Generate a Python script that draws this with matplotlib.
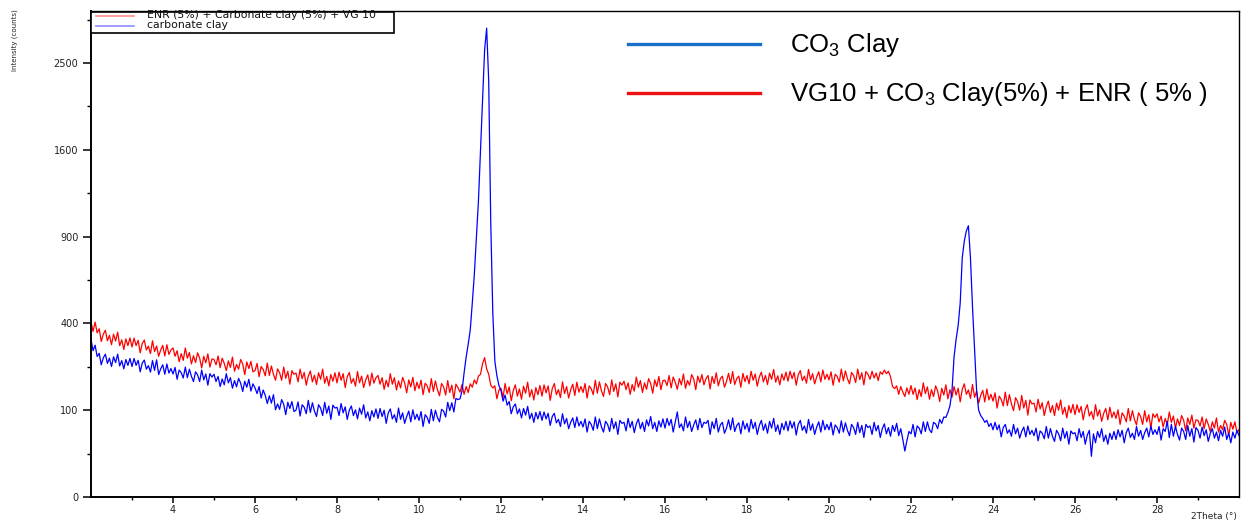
import numpy as np
import matplotlib
matplotlib.use("Agg")
import matplotlib.pyplot as plt
from matplotlib.lines import Line2D
from matplotlib.patches import Rectangle
from matplotlib.ticker import FixedLocator, NullFormatter

plt.rcParams["mathtext.fontset"] = "custom"
plt.rcParams["mathtext.rm"] = "Liberation Sans"
plt.rcParams["mathtext.it"] = "Liberation Sans:italic"

# ---- measurement grid (2-theta, degrees, 0.05 step) ----
two_theta = np.round(np.arange(2.0, 30.0001, 0.05), 2)

# ENR (5%) + carbonate clay (5%) + VG 10, counts (one row per degree)
composite_counts = [
    408, 364, 406, 358, 376, 321, 352, 369, 324, 347, 308, 352, 323, 361, 304, 328, 289, 332, 304, 336,
    299, 335, 304, 326, 276, 313, 327, 287, 302, 273, 324, 281, 303, 263, 287, 305, 264, 308, 270, 287,
    295, 263, 284, 243, 273, 248, 295, 256, 277, 235, 265, 240, 276, 256, 221, 263, 239, 272, 224, 253,
    251, 232, 264, 222, 256, 237, 212, 246, 223, 260, 210, 233, 217, 251, 235, 199, 242, 219, 244, 208,
    212, 237, 192, 226, 216, 195, 238, 196, 228, 200, 181, 218, 205, 181, 224, 187, 210, 169, 212, 200,
    204, 176, 217, 186, 206, 166, 194, 211, 176, 197, 168, 205, 184, 217, 172, 193, 164, 199, 178, 205,
    173, 207, 181, 202, 159, 192, 206, 172, 186, 163, 209, 173, 194, 159, 182, 198, 164, 204, 172, 189,
    196, 169, 189, 154, 181, 161, 202, 169, 189, 152, 179, 158, 190, 173, 144, 182, 161, 190, 150, 175,
    156, 181, 139, 172, 164, 145, 186, 148, 179, 153, 136, 171, 161, 138, 180, 145, 166, 128, 169, 159,
    146, 168, 140, 162, 145, 170, 160, 182, 170, 194, 200, 236, 258, 218, 200, 166, 158, 164, 128, 152,
    157, 131, 171, 141, 161, 123, 151, 167, 135, 155, 127, 163, 143, 175, 133, 153, 125, 159, 139, 165,
    135, 167, 144, 164, 124, 156, 171, 139, 153, 131, 176, 142, 162, 130, 153, 169, 137, 175, 146, 162,
    145, 171, 130, 164, 156, 139, 181, 143, 176, 150, 134, 171, 161, 139, 182, 148, 170, 133, 175, 166,
    178, 153, 173, 140, 168, 149, 191, 160, 180, 145, 173, 154, 186, 171, 143, 182, 162, 193, 153, 180,
    181, 165, 196, 158, 191, 175, 154, 186, 167, 201, 157, 180, 166, 199, 185, 153, 194, 174, 199, 167,
    186, 196, 155, 193, 171, 205, 164, 186, 194, 160, 177, 203, 171, 209, 168, 186, 194, 160, 203, 177,
    196, 170, 210, 181, 201, 163, 191, 207, 176, 196, 168, 204, 184, 216, 175, 195, 167, 201, 181, 207,
    178, 210, 186, 206, 166, 198, 212, 180, 194, 172, 216, 182, 202, 170, 192, 208, 176, 214, 184, 200,
    182, 208, 166, 200, 193, 175, 217, 179, 211, 186, 170, 206, 196, 174, 217, 183, 205, 167, 209, 200,
    184, 210, 188, 204, 180, 208, 200, 214, 202, 210, 192, 162, 156, 164, 140, 162, 146, 134, 158, 140,
    165, 140, 158, 126, 153, 134, 173, 142, 161, 127, 153, 134, 164, 149, 121, 157, 138, 167, 128, 153,
    132, 162, 138, 157, 120, 154, 170, 140, 152, 129, 168, 132, 149, 117, 137, 151, 120, 155, 125, 140,
    122, 144, 105, 135, 127, 110, 146, 111, 139, 115, 99, 131, 121, 100, 137, 105, 124, 89, 125, 115,
    117, 96, 127, 103, 118, 88, 109, 122, 95, 111, 88, 117, 100, 125, 91, 107, 83, 111, 94, 114,
    90, 113, 95, 109, 79, 102, 113, 87, 97, 80, 113, 87, 101, 76, 93, 104, 79, 107, 84, 96,
    82, 101, 70, 94, 87, 75, 104, 77, 99, 80, 69, 94, 86, 70, 99, 75, 90, 63, 92, 84,
    92, 75, 87, 65, 82, 69, 96, 74, 87, 63, 81, 68, 88, 78, 58, 83, 70, 89, 63, 79,
    78, 67, 85, 62, 81, 70, 57, 75, 63, 83, 56, 68, 60, 78, 70, 50, 74, 61, 75, 55,
    60,
]

# carbonate clay, counts (one row per degree)
clay_counts = [
    330, 284, 306, 262, 274, 232, 257, 271, 237, 256, 226, 261, 240, 271, 228, 247, 218, 251, 230, 255,
    226, 255, 230, 248, 208, 238, 249, 217, 229, 207, 247, 213, 250, 199, 218, 232, 200, 235, 204, 219,
    201, 223, 184, 214, 205, 188, 224, 189, 217, 193, 177, 208, 198, 177, 214, 182, 201, 166, 202, 191,
    200, 177, 193, 162, 185, 167, 202, 173, 189, 157, 180, 161, 187, 172, 148, 178, 160, 184, 149, 170,
    158, 142, 162, 130, 152, 137, 116, 136, 117, 139, 101, 115, 102, 126, 114, 90, 119, 104, 121, 97,
    100, 120, 87, 113, 107, 92, 124, 95, 118, 98, 86, 113, 105, 88, 119, 93, 110, 80, 112, 105,
    107, 88, 116, 94, 108, 80, 100, 110, 88, 101, 81, 105, 91, 113, 83, 96, 77, 99, 85, 103,
    82, 104, 86, 100, 72, 94, 103, 81, 90, 74, 105, 80, 94, 72, 86, 98, 75, 101, 80, 91,
    78, 97, 66, 90, 84, 72, 102, 77, 100, 84, 75, 102, 98, 85, 119, 99, 118, 96, 129, 126,
    128, 150, 205, 260, 310, 370, 500, 660, 900, 1165, 1600, 2082, 2650, 2918, 2300, 1000, 450, 245, 195, 165,
    150, 122, 138, 112, 121, 92, 108, 115, 92, 103, 83, 104, 89, 109, 81, 93, 74, 95, 81, 97,
    78, 96, 81, 93, 68, 86, 93, 73, 80, 66, 92, 71, 82, 62, 74, 83, 64, 85, 67, 76,
    65, 81, 56, 76, 70, 59, 85, 62, 81, 65, 56, 76, 70, 57, 82, 62, 75, 52, 78, 72,
    74, 58, 82, 64, 76, 55, 71, 81, 62, 74, 57, 79, 67, 86, 62, 74, 57, 77, 65, 81,
    63, 82, 68, 80, 56, 75, 96, 64, 71, 58, 85, 64, 76, 57, 69, 79, 60, 82, 64, 74,
    72, 78, 52, 75, 62, 82, 56, 69, 74, 54, 63, 79, 60, 83, 57, 68, 73, 53, 77, 61,
    72, 56, 80, 62, 74, 52, 68, 78, 59, 71, 54, 76, 63, 82, 57, 69, 52, 72, 60, 76,
    58, 77, 63, 75, 51, 70, 78, 59, 67, 54, 80, 59, 71, 52, 65, 75, 56, 78, 60, 70,
    60, 74, 51, 69, 64, 54, 77, 56, 73, 59, 50, 70, 64, 52, 74, 55, 68, 47, 70, 64,
    67, 52, 74, 58, 68, 47, 62, 71, 53, 64, 49, 68, 57, 72, 50, 62, 44, 28, 42, 57,
    53, 70, 48, 67, 63, 53, 75, 57, 75, 60, 55, 74, 71, 62, 80, 72, 85, 84, 95, 110,
    150, 260, 330, 390, 500, 760, 870, 940, 977, 760, 480, 290, 150, 100, 88, 82, 74, 78, 66, 72,
    60, 74, 60, 69, 48, 64, 70, 54, 60, 49, 70, 53, 63, 46, 57, 65, 48, 67, 52, 59,
    50, 63, 42, 58, 54, 45, 66, 46, 62, 49, 41, 59, 53, 42, 63, 46, 57, 37, 58, 53,
    55, 42, 62, 47, 57, 37, 51, 59, 22, 53, 39, 57, 47, 62, 41, 51, 37, 54, 44, 57,
    44, 60, 48, 59, 39, 55, 63, 47, 54, 44, 66, 49, 59, 44, 55, 63, 48, 67, 52, 60,
    52, 66, 43, 62, 57, 76, 47, 70, 49, 66, 52, 43, 63, 57, 44, 68, 49, 62, 40, 64,
    59, 46, 65, 50, 60, 41, 54, 62, 46, 56, 42, 59, 49, 65, 44, 54, 39, 56, 46, 59,
    50,
]

x_major = [4, 6, 8, 10, 12, 14, 16, 18, 20, 22, 24, 26, 28]
x_minor = [3, 5, 7, 9, 11, 13, 15, 17, 19, 21, 23, 25, 27, 29]
y_major = [0, 100, 400, 900, 1600, 2500]
y_minor = [25, 225, 625, 1225, 2025, 3025]

W, H = 1246, 520
fig = plt.figure(figsize=(W / 100, H / 100), dpi=100)


def fx(px):
    return px / W


def fy(py):
    return 1 - py / H


ax = fig.add_axes([fx(91), fy(497), (1239 - 91) / W, (497 - 11) / H])
ax.set_yscale("function",
              functions=(lambda y: np.sqrt(np.clip(y, 0, None)),
                         lambda s: np.square(s)))

ax.plot(two_theta, composite_counts, color="#ff0000", lw=0.9)
ax.plot(two_theta, clay_counts, color="#0000ff", lw=0.9)

ax.set_xlim(2, 30)
ax.set_ylim(0, 3136)

ax.xaxis.set_major_locator(FixedLocator(x_major))
ax.xaxis.set_minor_locator(FixedLocator(x_minor))
ax.yaxis.set_major_locator(FixedLocator(y_major))
ax.yaxis.set_minor_locator(FixedLocator(y_minor))
ax.yaxis.set_minor_formatter(NullFormatter())
ax.set_yticklabels([str(v) for v in y_major])
ax.set_xticklabels([str(v) for v in x_major])

for lab in ax.get_xticklabels() + ax.get_yticklabels():
    lab.set_fontfamily("DejaVu Sans")
    lab.set_fontsize(7)
    lab.set_color("#222222")

ax.tick_params(axis="y", which="major", direction="out", length=6, width=1.1, pad=3)
ax.tick_params(axis="y", which="minor", direction="out", length=3, width=1.0)
ax.tick_params(axis="x", which="major", direction="out", length=4, width=1.1, pad=2)
ax.tick_params(axis="x", which="minor", direction="out", length=2.5, width=1.0)

for side in ("left", "bottom"):
    ax.spines[side].set_linewidth(1.4)
for side in ("top", "right"):
    ax.spines[side].set_linewidth(1.0)

# axis titles
fig.text(fx(15), fy(40), "Intensity (counts)", rotation=90, ha="center", va="center",
         fontsize=5, family="DejaVu Sans", color="#222222")
fig.text(fx(1214), fy(516), "2Theta (°)", ha="center", va="center",
         fontsize=6.5, family="DejaVu Sans", color="#222222")

# instrument legend box (top left)
fig.add_artist(Rectangle((fx(91), fy(33)), fx(394) - fx(91), fy(12) - fy(33),
                         transform=fig.transFigure, fill=True, facecolor="white",
                         edgecolor="black", lw=1.2, zorder=5))
fig.add_artist(Line2D([fx(96), fx(134)], [fy(15.5)] * 2, color="#ff8c8c", lw=1.2, zorder=6))
fig.add_artist(Line2D([fx(96), fx(134)], [fy(25.5)] * 2, color="#8c8cff", lw=1.2, zorder=6))
fig.text(fx(147), fy(15.5), "ENR (5%) + Carbonate clay (5%) + VG 10", ha="left", va="center",
         fontsize=7.8, family="DejaVu Sans", color="#111111", zorder=6)
fig.text(fx(147), fy(25.5), "carbonate clay", ha="left", va="center",
         fontsize=7.8, family="DejaVu Sans", color="#111111", zorder=6)

# sample key (top right)
fig.add_artist(Line2D([fx(628), fx(760)], [fy(44)] * 2, color="#1a6fc6", lw=2.4))
fig.add_artist(Line2D([fx(628), fx(760)], [fy(93)] * 2, color="#ee1111", lw=2.4))
fig.text(fx(790), fy(45), r"CO$_{3}$ Clay", ha="left", va="center",
         fontsize=18.5, family="Liberation Sans", color="black")
fig.text(fx(790), fy(94), r"VG10 + CO$_{3}$ Clay(5%) + ENR ( 5% )", ha="left", va="center",
         fontsize=18.5, family="Liberation Sans", color="black")

fig.savefig("out.png", dpi=100, facecolor="white")
